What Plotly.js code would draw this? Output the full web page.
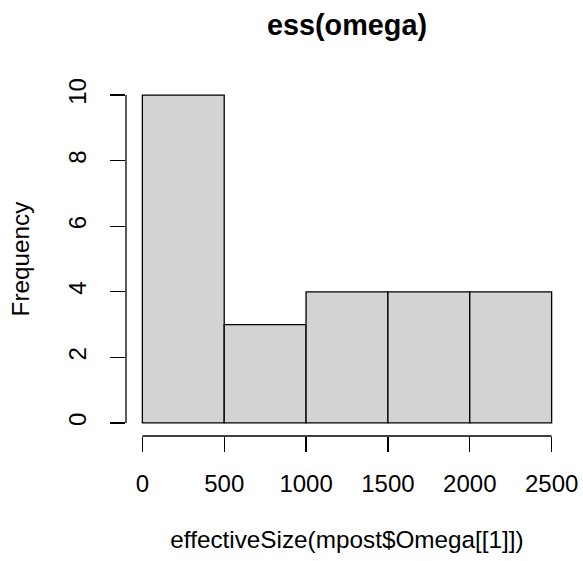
<!DOCTYPE html>
<html>
<head>
<meta charset="utf-8">
<script src="https://cdn.plot.ly/plotly-3.0.1.min.js"></script>
<style>html,body{margin:0;padding:0;background:#fff;}#chart{width:583px;height:561px;}</style>
</head>
<body>
<div id="chart"></div>
<script>
const breaks = [0, 500, 1000, 1500, 2000, 2500];
const counts = [10, 3, 4, 4, 4];
const xTicks = [0, 500, 1000, 1500, 2000, 2500];
const yTicks = [0, 2, 4, 6, 8, 10];
const titleText = "ess(omega)";
const xLabel = "effectiveSize(mpost$Omega[[1]])";
const yLabel = "Frequency";

const mids = counts.map((c, i) => (breaks[i] + breaks[i + 1]) / 2);
const widths = counts.map((c, i) => breaks[i + 1] - breaks[i]);
const FONT = "Liberation Sans, Arial, Helvetica, sans-serif";

const trace = {
  type: "bar", x: mids, y: counts, width: widths,
  marker: {color: "#D3D3D3", line: {color: "#000", width: 1.3}},
  hoverinfo: "x+y"
};

const layout = {
  width: 583, height: 561,
  margin: {l: 125.6, r: 14.6, t: 82, b: 125},
  paper_bgcolor: "#fff", plot_bgcolor: "#fff",
  font: {family: FONT, color: "#000", size: 24},
  showlegend: false,
  bargap: 0,
  title: {text: "<b>" + titleText + "</b>", font: {family: FONT, size: 28.8, color: "#000"}, x: 0.5, xref: "paper", xanchor: "center", y: 1 - 25/561, yanchor: "middle"},
  xaxis: {
    range: [-100, 2600], tickvals: xTicks, ticktext: xTicks.map(String),
    ticks: "outside", ticklen: 15, tickwidth: 1.3, tickcolor: "#000",
    showgrid: false, zeroline: false, showline: false,
    ticklabelstandoff: 11,
    tickfont: {size: 24},
    title: {text: xLabel, font: {size: 24.3}, standoff: 35},
    automargin: false
  },
  yaxis: {
    range: [-0.4, 10.4], tickvals: yTicks, ticktext: yTicks.map(String),
    ticks: "outside", ticklen: 15, tickwidth: 1.3, tickcolor: "#000",
    tickangle: -90,
    showgrid: false, zeroline: false, showline: false,
    ticklabelstandoff: 14,
    tickfont: {size: 24},
    title: {text: yLabel, font: {size: 24.3}, standoff: 27},
    automargin: false
  },
  shapes: [
    {type: "line", xref: "x", yref: "paper", x0: xTicks[0], x1: xTicks[xTicks.length-1], y0: 0, y1: 0, line: {color: "#000", width: 1.3}},
    {type: "line", xref: "paper", yref: "y", x0: 0, x1: 0, y0: yTicks[0], y1: yTicks[yTicks.length-1], line: {color: "#000", width: 1.3}}
  ]
};

Plotly.newPlot("chart", [trace], layout, {displayModeBar: false, staticPlot: true});
</script>
</body>
</html>
